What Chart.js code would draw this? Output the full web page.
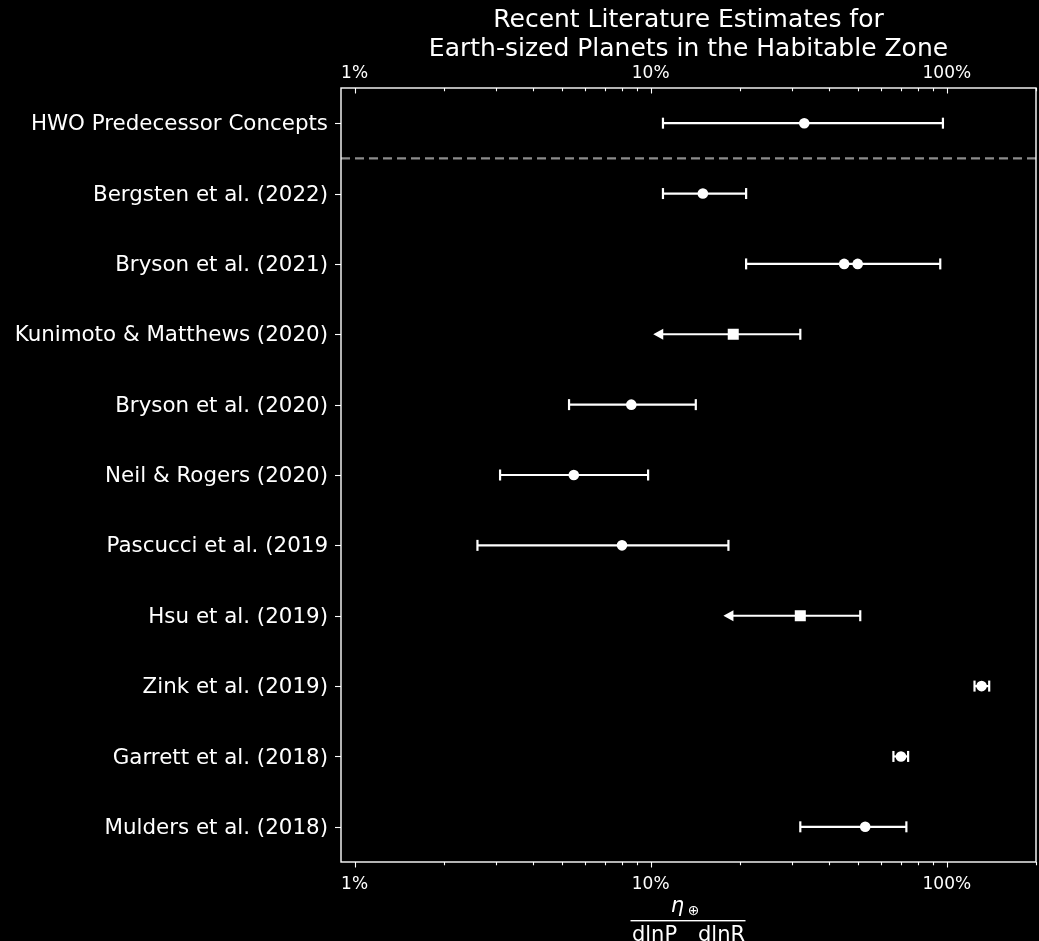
<!DOCTYPE html>
<html>
<head>
<meta charset="utf-8">
<title>Earth-sized Planets in the Habitable Zone</title>
<script src="https://cdn.jsdelivr.net/npm/chart.js@4/dist/chart.umd.min.js"></script>
<style>
  html, body { margin: 0; padding: 0; background: #000; }
  canvas { display: block; }
</style>
</head>
<body>
<canvas id="chart" width="1039" height="941"></canvas>
<script>
// Studies, top to bottom
const studies = [
  'HWO Predecessor Concepts',
  'Bergsten et al. (2022)',
  'Bryson et al. (2021)',
  'Kunimoto & Matthews (2020)',
  'Bryson et al. (2020)',
  'Neil & Rogers (2020)',
  'Pascucci et al. (2019',
  'Hsu et al. (2019)',
  'Zink et al. (2019)',
  'Garrett et al. (2018)',
  'Mulders et al. (2018)'
];

// eta-Earth estimates in percent
const estimates   = [33, 15, 45, 19, 8.6, 5.5, 8.0, 32, 131, 70, 53];
const lowerBounds = [11, 11, 21, 10.2, 5.3, 3.1, 2.6, 17.6, 124, 66, 32];
const upperBounds = [97, 21, 95, 32, 14.2, 9.8, 18.3, 51, 139, 74, 73];
// true = lower end is an arrow (upper-limit style estimate), drawn with a square marker
const arrowLower  = [false, false, false, true, false, false, false, true, false, false, false];

// Second estimate quoted by one of the studies
const extraStudies   = ['Bryson et al. (2021)'];
const extraEstimates = [50];

// Axis ticks
const majorTickValues = [1, 10, 100];
const majorTickLabels = ['1%', '10%', '100%'];
const minorTickValues = [2, 3, 4, 5, 6, 7, 8, 9, 20, 30, 40, 50, 60, 70, 80, 90, 200];
const xMin = 0.9, xMax = 200;

const FONT = '"DejaVu Sans", "Liberation Sans", sans-serif';

const circlePoints = [];
const squarePoints = [];
studies.forEach((s, i) => {
  (arrowLower[i] ? squarePoints : circlePoints).push({ x: estimates[i], y: s });
});
extraStudies.forEach((s, i) => circlePoints.push({ x: extraEstimates[i], y: s }));

function logAxis(position, height, pad) {
  return {
    type: 'logarithmic',
    position: position,
    min: xMin,
    max: xMax,
    grid: { display: false, drawTicks: false },
    border: { display: false },
    afterBuildTicks: (scale) => { scale.ticks = majorTickValues.map(v => ({ value: v })); },
    afterFit: (scale) => {
      scale.height = height;
      scale.paddingLeft = 0;
      scale.paddingRight = 0;
    },
    ticks: {
      color: '#fff',
      padding: pad,
      autoSkip: false,
      maxRotation: 0,
      font: { family: FONT, size: 17 },
      callback: (v) => {
        const k = majorTickValues.indexOf(v);
        return k >= 0 ? majorTickLabels[k] : '';
      }
    }
  };
}

// Error bars, limit arrows and the separator line under the first row
const errorBarPlugin = {
  id: 'errorBars',
  beforeDatasetsDraw(chart) {
    const { ctx, scales: { x, y }, chartArea } = chart;
    ctx.save();
    // separator
    const ySep = (y.getPixelForValue(0) + y.getPixelForValue(1)) / 2;
    ctx.strokeStyle = '#8c8c8c';
    ctx.lineWidth = 2.2;
    ctx.setLineDash([9, 5]);
    ctx.beginPath();
    ctx.moveTo(chartArea.left, ySep);
    ctx.lineTo(chartArea.right, ySep);
    ctx.stroke();
    ctx.setLineDash([]);

    ctx.strokeStyle = '#fff';
    ctx.fillStyle = '#fff';
    ctx.lineWidth = 2.2;
    studies.forEach((s, i) => {
      const py = y.getPixelForValue(i);
      const x0 = x.getPixelForValue(lowerBounds[i]);
      const x1 = x.getPixelForValue(upperBounds[i]);
      ctx.beginPath();
      ctx.moveTo(arrowLower[i] ? x0 + 8 : x0, py);
      ctx.lineTo(x1, py);
      ctx.stroke();
      // right cap
      ctx.beginPath();
      ctx.moveTo(x1, py - 5.5);
      ctx.lineTo(x1, py + 5.5);
      ctx.stroke();
      if (arrowLower[i]) {
        ctx.beginPath();
        ctx.moveTo(x0, py);
        ctx.lineTo(x0 + 10, py - 5.5);
        ctx.lineTo(x0 + 10, py + 5.5);
        ctx.closePath();
        ctx.fill();
      } else {
        ctx.beginPath();
        ctx.moveTo(x0, py - 5.5);
        ctx.lineTo(x0, py + 5.5);
        ctx.stroke();
      }
    });
    ctx.restore();
  }
};

// Frame, tick marks, title and the x-axis label
const framePlugin = {
  id: 'frame',
  beforeDraw(chart) {
    const { ctx } = chart;
    ctx.save();
    ctx.fillStyle = '#000';
    ctx.fillRect(0, 0, chart.width, chart.height);
    ctx.restore();
  },
  afterDraw(chart) {
    const { ctx, scales: { x, y }, chartArea: a } = chart;
    ctx.save();
    ctx.strokeStyle = '#fff';
    ctx.lineWidth = 1.4;
    ctx.strokeRect(a.left, a.top, a.right - a.left, a.bottom - a.top);

    ctx.lineWidth = 1.1;
    const tick = (v, len) => {
      const px = Math.round(x.getPixelForValue(v)) + 0.5;
      ctx.beginPath();
      ctx.moveTo(px, a.top); ctx.lineTo(px, a.top + len);
      ctx.moveTo(px, a.bottom); ctx.lineTo(px, a.bottom + len);
      ctx.stroke();
    };
    majorTickValues.forEach(v => tick(v, 5.5));
    minorTickValues.forEach(v => tick(v, 3.3));
    studies.forEach((s, i) => {
      const py = Math.round(y.getPixelForValue(i)) + 0.5;
      ctx.beginPath();
      ctx.moveTo(a.left - 6, py); ctx.lineTo(a.left, py);
      ctx.stroke();
    });

    ctx.fillStyle = '#fff';
    ctx.textAlign = 'center';
    ctx.textBaseline = 'alphabetic';
    const cx = (a.left + a.right) / 2;
    ctx.font = '25px ' + FONT;
    ctx.fillText('Recent Literature Estimates for', cx, 27);
    ctx.fillText('Earth-sized Planets in the Habitable Zone', cx, 56);

    // x label: eta_Earth / (dlnP dlnR)
    ctx.font = 'italic 21px ' + FONT;
    ctx.fillText('\u03b7', cx - 11, 912);
    ctx.font = '14px ' + FONT;
    ctx.textBaseline = 'middle';
    ctx.fillText('\u2295', cx + 5, 911);
    ctx.fillRect(cx - 58, 920, 115, 1.4);
    ctx.textBaseline = 'alphabetic';
    ctx.font = '21px ' + FONT;
    ctx.fillText('dlnP', cx - 34, 941);
    ctx.fillText('dlnR', cx + 33, 941);
    ctx.restore();
  }
};

new Chart(document.getElementById('chart'), {
  type: 'scatter',
  data: {
    datasets: [
      {
        data: circlePoints,
        pointStyle: 'circle',
        pointRadius: 5.3,
        pointHoverRadius: 5.3,
        backgroundColor: '#fff',
        borderWidth: 0
      },
      {
        data: squarePoints,
        pointStyle: 'rect',
        pointRadius: 7.8,
        pointHoverRadius: 7.8,
        backgroundColor: '#fff',
        borderWidth: 0
      }
    ]
  },
  options: {
    responsive: false,
    animation: false,
    devicePixelRatio: 1,
    layout: { autoPadding: false, padding: { left: 0, right: 3, top: 0, bottom: 0 } },
    plugins: { legend: { display: false }, tooltip: { enabled: false }, title: { display: false } },
    events: [],
    scales: {
      x: logAxis('bottom', 79, 12),
      x2: logAxis('top', 88, 4),
      y: {
        type: 'category',
        labels: studies,
        offset: true,
        position: 'left',
        grid: { display: false, drawTicks: false },
        border: { display: false },
        afterFit: (scale) => {
          scale.width = 341;
          scale.paddingTop = 0;
          scale.paddingBottom = 0;
        },
        ticks: {
          color: '#fff',
          padding: 13,
          labelOffset: 1.5,
          autoSkip: false,
          font: { family: FONT, size: 21.4 }
        }
      }
    }
  },
  plugins: [errorBarPlugin, framePlugin]
});
</script>
</body>
</html>
